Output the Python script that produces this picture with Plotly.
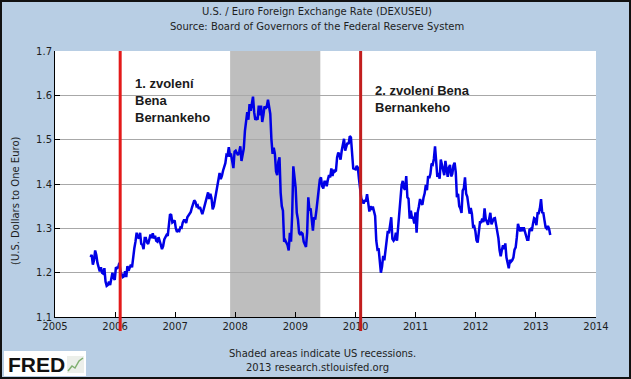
import pandas as pd
import plotly.graph_objects as go

# ---- data (weekly, Fridays) ----
start_date = "2005-08-05"
usd_per_euro = [
    # 2005 Aug-Dec
    1.235, 1.240, 1.218, 1.228,
    1.250, 1.240, 1.222, 1.210, 1.203,
    1.212, 1.200, 1.198, 1.210,
    1.180, 1.170, 1.172, 1.180,
    1.172, 1.183, 1.200, 1.188, 1.184,
    # 2006
    1.212, 1.210, 1.212, 1.222,
    1.202, 1.193, 1.190, 1.192,
    1.203, 1.190, 1.215, 1.204, 1.212,
    1.218, 1.212, 1.238, 1.255,
    1.270, 1.290, 1.280, 1.277,
    1.290, 1.265, 1.263, 1.253, 1.278,
    1.278, 1.268, 1.265, 1.275,
    1.286, 1.278, 1.289, 1.277,
    1.283, 1.272, 1.270, 1.280, 1.268,
    1.263, 1.253, 1.260, 1.275,
    1.280, 1.285, 1.283, 1.308,
    1.332, 1.330, 1.313, 1.315, 1.318,
    # 2007
    1.300, 1.292, 1.295, 1.294,
    1.302, 1.301, 1.313, 1.318,
    1.318, 1.312, 1.325, 1.330, 1.335,
    1.337, 1.347, 1.358, 1.363,
    1.360, 1.350, 1.352, 1.344,
    1.348, 1.340, 1.332, 1.341, 1.351,
    1.362, 1.377, 1.381, 1.366,
    1.378, 1.368, 1.343, 1.350, 1.365,
    1.378, 1.390, 1.410, 1.425,
    1.411, 1.418, 1.430, 1.438,
    1.447, 1.466, 1.465, 1.483, 1.465,
    1.466, 1.446, 1.436, 1.473,
    # 2008
    1.475, 1.470, 1.465, 1.472,
    1.485, 1.452, 1.465, 1.480, 1.520,
    1.536, 1.562, 1.545, 1.580,
    1.565, 1.580, 1.597, 1.562,
    1.545, 1.548, 1.545, 1.577, 1.555,
    1.577, 1.540, 1.555, 1.575,
    1.570, 1.575, 1.590, 1.570,
    1.558, 1.500, 1.468, 1.482, 1.468,
    1.428, 1.420, 1.450, 1.460,
    1.380, 1.350, 1.340, 1.270, 1.273,
    1.268, 1.262, 1.250, 1.290,
    1.270, 1.330, 1.440, 1.410,
    # 2009
    1.392, 1.335, 1.320, 1.290, 1.285,
    1.290, 1.288, 1.270, 1.262,
    1.258, 1.290, 1.370, 1.340,
    1.345, 1.320, 1.295, 1.325,
    1.320, 1.340, 1.365, 1.395, 1.410,
    1.415, 1.395, 1.390, 1.405,
    1.405, 1.395, 1.410, 1.420, 1.415,
    1.435, 1.418, 1.432, 1.428,
    1.430, 1.460, 1.471, 1.465,
    1.455, 1.475, 1.493, 1.502, 1.475,
    1.488, 1.493, 1.490, 1.508,
    1.505, 1.465, 1.435, 1.434,
    # 2010
    1.433, 1.441, 1.437, 1.411, 1.392,
    1.367, 1.362, 1.356, 1.362,
    1.362, 1.377, 1.357, 1.338,
    1.350, 1.342, 1.349, 1.335, 1.328,
    1.272, 1.253, 1.255, 1.227,
    1.200, 1.214, 1.238, 1.228,
    1.253, 1.264, 1.294, 1.289, 1.304,
    1.325, 1.276, 1.272, 1.276,
    1.290, 1.272, 1.305, 1.346,
    1.376, 1.398, 1.407, 1.391, 1.387,
    1.418, 1.370, 1.367, 1.322,
    1.340, 1.324, 1.324, 1.311, 1.336,
    # 2011
    1.290, 1.337, 1.350, 1.366,
    1.357, 1.353, 1.369, 1.379,
    1.398, 1.386, 1.418, 1.413,
    1.423, 1.446, 1.444, 1.457, 1.485,
    1.455, 1.416, 1.425, 1.412,
    1.455, 1.443, 1.430, 1.420,
    1.452, 1.426, 1.416, 1.437, 1.443,
    1.417, 1.423, 1.442, 1.448,
    1.426, 1.370, 1.378, 1.350, 1.345,
    1.335, 1.385, 1.390, 1.415,
    1.378, 1.371, 1.352, 1.333,
    1.346, 1.333, 1.304, 1.305, 1.294,
    # 2012
    1.273, 1.268, 1.293, 1.314,
    1.314, 1.322, 1.314, 1.345,
    1.321, 1.313, 1.308, 1.321, 1.335,
    1.309, 1.314, 1.322, 1.323,
    1.310, 1.292, 1.278, 1.251,
    1.237, 1.251, 1.262, 1.253, 1.266,
    1.234, 1.224, 1.210, 1.229,
    1.225, 1.228, 1.234, 1.252, 1.257,
    1.280, 1.310, 1.300, 1.293,
    1.302, 1.294, 1.302, 1.293,
    1.283, 1.274, 1.274, 1.297, 1.299,
    1.294, 1.310, 1.323, 1.321,
    # 2013 Jan-Mar
    1.307, 1.334, 1.334, 1.345,
    1.366, 1.336, 1.335, 1.318,
    1.302, 1.299, 1.305, 1.299, 1.285,
]
dates = pd.date_range(start_date, periods=len(usd_per_euro), freq="W-FRI")

year_ticks = [str(y) for y in range(2005, 2015)]
y_ticks = [1.1, 1.2, 1.3, 1.4, 1.5, 1.6, 1.7]
recession_start = "2007-12-01"
recession_end = "2009-06-01"
bernanke_terms = ["2006-02-01", "2010-02-01"]
term_labels = ["1. zvolení<br>Bena<br>Bernankeho", "2. zvolení Bena<br>Bernankeho"]

# ---- geometry helpers (pixels -> paper) ----
W, H = 631, 379
ML, MR, MT, MB = 55, 35, 51, 62
PW, PH = W - ML - MR, H - MT - MB


def px(x):
    return (x - ML) / PW


def py(y):
    return (H - MB - y) / PH


FONT = "DejaVu Sans"
TXT = "#1e1e1e"

fig = go.Figure()
fig.add_trace(go.Scatter(
    x=dates, y=usd_per_euro, mode="lines",
    line=dict(color="#0000E6", width=2.5), hoverinfo="x+y", showlegend=False,
))

shapes = [
    # recession shading
    dict(type="rect", xref="x", yref="paper", x0=recession_start, x1=recession_end,
         y0=0, y1=1, fillcolor="#BEBEBE", line=dict(width=0), layer="between"),
    # white label boxes
    dict(type="rect", xref="paper", yref="paper", x0=px(63), x1=px(222), y0=py(122), y1=py(68),
         fillcolor="white", line=dict(width=0), layer="between"),
    dict(type="rect", xref="paper", yref="paper", x0=px(362), x1=px(477), y0=py(114), y1=py(76),
         fillcolor="white", line=dict(width=0), layer="between"),
]
for d, col in zip(bernanke_terms, ["#E31A1A", "#C21E1E"]):
    shapes.append(dict(type="line", xref="x", yref="paper", x0=d, x1=d,
                       y0=py(331), y1=1, line=dict(color=col, width=3), layer="above"))
# FRED logo box + icon
shapes += [
    dict(type="rect", xref="paper", yref="paper", x0=px(4), x1=px(86), y0=py(376), y1=py(351),
         fillcolor="white", line=dict(width=0), layer="above"),
    dict(type="rect", xref="paper", yref="paper", x0=px(67), x1=px(84), y0=py(373), y1=py(356),
         fillcolor="#ECEFEA", line=dict(width=0), layer="above"),
    dict(type="path", xref="paper", yref="paper",
         path=f"M {px(68)},{py(371)} L {px(72)},{py(366)} L {px(75)},{py(368)} "
              f"L {px(79)},{py(361)} L {px(83)},{py(358)}",
         line=dict(color="#7FAF6F", width=1.5), layer="above"),
    # outer border
    dict(type="rect", xref="paper", yref="paper", x0=px(1), x1=px(630), y0=py(378), y1=py(1),
         line=dict(color="#111111", width=2), fillcolor="rgba(0,0,0,0)", layer="above"),
]

annotations = [
    dict(text="U.S. / Euro Foreign Exchange Rate (DEXUSEU)", x=px(317), y=py(11),
         xref="paper", yref="paper", showarrow=False, xanchor="center", yanchor="middle",
         font=dict(family=FONT, size=10, color=TXT)),
    dict(text="Source: Board of Governors of the Federal Reserve System", x=px(317), y=py(26),
         xref="paper", yref="paper", showarrow=False, xanchor="center", yanchor="middle",
         font=dict(family=FONT, size=10, color=TXT)),
    dict(text="Shaded areas indicate US recessions.", x=px(322), y=py(353),
         xref="paper", yref="paper", showarrow=False, xanchor="center", yanchor="middle",
         font=dict(family=FONT, size=10, color=TXT)),
    dict(text="2013 research.stlouisfed.org", x=px(317), y=py(367),
         xref="paper", yref="paper", showarrow=False, xanchor="center", yanchor="middle",
         font=dict(family=FONT, size=10, color=TXT)),
    dict(text="(U.S. Dollars to One Euro)", x=px(15), y=py(201), textangle=-90,
         xref="paper", yref="paper", showarrow=False, xanchor="center", yanchor="middle",
         font=dict(family=FONT, size=10, color=TXT)),
    dict(text=term_labels[0], x=px(133), y=py(100.5), align="left",
         xref="paper", yref="paper", showarrow=False, xanchor="left", yanchor="middle",
         font=dict(family="Liberation Sans", size=13, color="#1a1a1a", weight="bold")),
    dict(text=term_labels[1], x=px(372.5), y=py(98.7), align="left",
         xref="paper", yref="paper", showarrow=False, xanchor="left", yanchor="middle",
         font=dict(family="Liberation Sans", size=13, color="#1a1a1a", weight="bold")),
    dict(text="<b>FRED</b>", x=px(6), y=py(364), xref="paper", yref="paper",
         showarrow=False, xanchor="left", yanchor="middle",
         font=dict(family="Liberation Sans", size=21, color="#111111")),
]

fig.update_layout(
    width=W, height=H,
    margin=dict(l=ML, r=MR, t=MT, b=MB, pad=0),
    paper_bgcolor="#B8CEE4", plot_bgcolor="white",
    shapes=shapes, annotations=annotations, showlegend=False,
    xaxis=dict(
        type="date", range=["2005-01-01", "2014-01-01"],
        tickvals=[f"{y}-01-01" for y in year_ticks], ticktext=year_ticks,
        ticks="inside", ticklen=5, tickcolor="#000", tickwidth=1,
        showline=True, linecolor="#000", linewidth=1, showgrid=False, zeroline=False,
        tickfont=dict(family=FONT, size=10, color=TXT), fixedrange=True,
    ),
    yaxis=dict(
        range=[1.1, 1.7], tickvals=y_ticks, tickformat=".1f",
        ticks="inside", ticklen=5, tickcolor="#000", tickwidth=1,
        showline=True, linecolor="#000", linewidth=1,
        showgrid=True, gridcolor="#A8A8A8", gridwidth=1, zeroline=False,
        tickfont=dict(family=FONT, size=10, color=TXT), fixedrange=True,
    ),
)

fig.write_html(
    "out.html",
    config={"displayModeBar": False},
    post_script="document.body.style.margin='0';document.body.style.overflow='hidden';",
)
